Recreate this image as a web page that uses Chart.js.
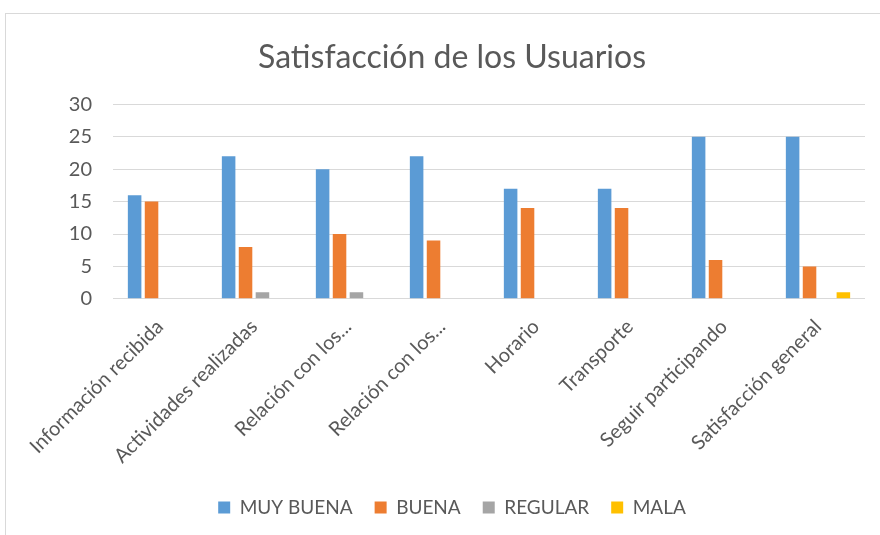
<!DOCTYPE html>
<html lang="es">
<head>
    <meta charset="UTF-8">
    <title>Satisfacción de los Usuarios</title>
    <script src="https://cdn.jsdelivr.net/npm/chart.js@4.4.0/dist/chart.umd.min.js"></script>
    <style>
        body { margin: 0; background: #fff; overflow: hidden; }
        #frame { position: absolute; left: 5px; top: 13px; width: 900px; height: 540px; border: 1px solid #d9d9d9; }
        #wrap { position: absolute; left: 0; top: 0; width: 892px; height: 521px; }
    </style>
</head>
<body>
    <div id="frame">
        <div id="wrap"><canvas id="chart"></canvas></div>
    </div>

    <script>
        // categories and series
        const categories = [
            'Información recibida', 'Actividades realizadas', 'Relación con los...', 'Relación con los...',
            'Horario', 'Transporte', 'Seguir participando', 'Satisfacción general'
        ];
        const muyBuena = [16, 22, 20, 22, 17, 17, 25, 25];
        const buena    = [15, 8, 10, 9, 14, 14, 6, 5];
        const regular  = [0, 1, 1, 0, 0, 0, 0, 0];
        const mala     = [0, 0, 0, 0, 0, 0, 0, 1];
        const yTicks   = [0, 5, 10, 15, 20, 25, 30];

        const font = "Lato, 'Open Sans', sans-serif";
        const grey = '#595959';

        new Chart(document.getElementById('chart'), {
            type: 'bar',
            data: {
                labels: categories,
                datasets: [
                    { label: 'MUY BUENA', data: muyBuena, backgroundColor: '#5b9bd5' },
                    { label: 'BUENA', data: buena, backgroundColor: '#ed7d31' },
                    { label: 'REGULAR', data: regular, backgroundColor: '#a5a5a5' },
                    { label: 'MALA', data: mala, backgroundColor: '#ffc000' }
                ]
            },
            options: {
                responsive: true,
                maintainAspectRatio: false,
                animation: false,
                layout: { padding: { left: 33, right: 33, top: 12, bottom: 8 } },
                datasets: { bar: { categoryPercentage: 0.72, barPercentage: 0.8 } },
                plugins: {
                    title: {
                        display: true,
                        text: 'Satisfacción de los Usuarios',
                        color: grey,
                        font: { family: font, size: 32, weight: 'normal' },
                        padding: { top: 12, bottom: 28 }
                    },
                    legend: {
                        position: 'bottom',
                        labels: {
                            color: grey,
                            boxWidth: 12,
                            boxHeight: 12,
                            padding: 22,
                            font: { family: font, size: 19 }
                        }
                    },
                    tooltip: { enabled: false }
                },
                scales: {
                    y: {
                        min: 0,
                        max: 30,
                        afterBuildTicks: (axis) => { axis.ticks = yTicks.map(v => ({ value: v })); },
                        afterFit: (axis) => { axis.width = 74; },
                        border: { display: false },
                        grid: { color: '#d9d9d9', drawTicks: false },
                        ticks: { color: grey, padding: 21, font: { family: font, size: 20 } }
                    },
                    x: {
                        border: { display: false },
                        grid: { display: false },
                        ticks: {
                            color: grey,
                            minRotation: 45,
                            maxRotation: 45,
                            autoSkip: false,
                            padding: 8,
                            font: { family: font, size: 20 }
                        }
                    }
                }
            }
        });
    </script>
</body>
</html>
